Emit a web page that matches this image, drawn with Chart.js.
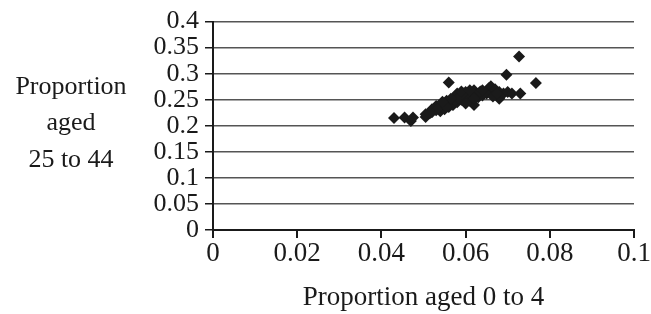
<!DOCTYPE html>
<html>
<head>
<meta charset="utf-8">
<script src="https://cdn.jsdelivr.net/npm/chart.js@4.4.1/dist/chart.umd.min.js"></script>
<style>
html,body{margin:0;padding:0;background:#fff;}
#wrap{width:651px;height:314px;position:relative;}
</style>
</head>
<body>
<div id="wrap"><canvas id="c" width="651" height="314"></canvas></div>
<script>
const xTitle = "Proportion aged 0 to 4";
const yTitleLines = ["Proportion", "aged", "25 to 44"];
const xTicks = [0, 0.02, 0.04, 0.06, 0.08, 0.1];
const yTicks = [0, 0.05, 0.1, 0.15, 0.2, 0.25, 0.3, 0.35, 0.4];
const aged0to4 = [0.043,0.0455,0.047,0.0475,0.0505,0.0505,0.052,0.052,0.053,0.053,0.054,0.054,0.0545,0.055,0.055,0.0555,0.056,0.056,0.0565,0.057,0.057,0.0575,0.058,0.058,0.059,0.059,0.060,0.060,0.061,0.061,0.062,0.062,0.063,0.063,0.064,0.065,0.0655,0.066,0.066,0.067,0.067,0.068,0.068,0.069,0.0697,0.070,0.071,0.0727,0.073,0.0767,
  0.0515,0.0535,0.0555,0.0575,0.0585,0.0595,0.0605,0.0615,0.0625,0.0635,0.0645,0.0665,0.0675,0.0565,0.0545,0.0600,0.0590,0.0610,0.0620,0.0640];
const aged25to44 = [0.215,0.216,0.209,0.216,0.217,0.222,0.226,0.232,0.230,0.238,0.228,0.236,0.243,0.232,0.240,0.248,0.236,0.283,0.245,0.240,0.252,0.256,0.245,0.262,0.250,0.258,0.255,0.265,0.248,0.262,0.240,0.268,0.255,0.262,0.258,0.262,0.272,0.268,0.276,0.260,0.270,0.252,0.265,0.262,0.298,0.265,0.262,0.333,0.262,0.282,
  0.224,0.234,0.236,0.248,0.252,0.262,0.250,0.256,0.258,0.266,0.264,0.256,0.262,0.252,0.246,0.243,0.266,0.268,0.252,0.268];

const points = aged0to4.map((x, i) => ({x: x, y: aged25to44[i]}));
const FONT = "'Liberation Serif', 'Times New Roman', serif";
const INK = '#1a1a1a';

const yTitlePlugin = {
  id: 'yTitle',
  afterDraw(chart) {
    const ctx = chart.ctx;
    ctx.save();
    ctx.fillStyle = INK;
    ctx.font = "26px " + FONT;
    ctx.textAlign = 'center';
    ctx.textBaseline = 'middle';
    const cx = 71, cy = [87, 123, 160];
    yTitleLines.forEach((t, i) => ctx.fillText(t, cx, cy[i]));
    ctx.restore();
  }
};

new Chart(document.getElementById('c'), {
  type: 'scatter',
  data: {
    datasets: [{
      data: points,
      pointStyle: 'rectRot',
      pointRadius: 6,
      pointHoverRadius: 6,
      backgroundColor: INK,
      borderColor: INK,
      borderWidth: 0
    }]
  },
  options: {
    responsive: false,
    animation: false,
    events: [],
    layout: { padding: { top: 19, right: 17, left: 0, bottom: 0 } },
    plugins: { legend: { display: false }, tooltip: { enabled: false } },
    scales: {
      x: {
        type: 'linear',
        min: 0, max: 0.1,
        afterBuildTicks(scale) { scale.ticks = xTicks.map(v => ({value: v})); },
        afterFit(scale) { scale.height = 84; },
        grid: { drawOnChartArea: false, drawTicks: true, tickLength: 8, tickColor: INK, lineWidth: 2 },
        border: { display: true, color: INK, width: 2 },
        ticks: { color: INK, font: { family: FONT, size: 27 }, padding: 0, maxRotation: 0, autoSkip: false,
          callback: v => String(v) },
        title: { display: true, text: xTitle, color: INK, font: { family: FONT, size: 27 }, padding: { top: 4, bottom: 0 } }
      },
      y: {
        type: 'linear',
        min: 0, max: 0.4,
        afterBuildTicks(scale) { scale.ticks = yTicks.map(v => ({value: v})); },
        afterFit(scale) { scale.width = 213; },
        grid: { color: '#555', lineWidth: 1.5, tickLength: 8, tickColor: INK, drawTicks: true },
        border: { display: true, color: INK, width: 2 },
        ticks: { color: INK, font: { family: FONT, size: 26 }, padding: 6, autoSkip: false,
          callback: v => String(v) }
      }
    }
  },
  plugins: [yTitlePlugin]
});
</script>
</body>
</html>
